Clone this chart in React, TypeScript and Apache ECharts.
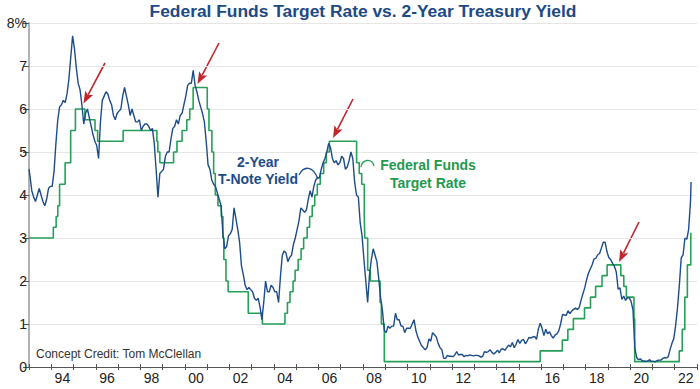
import React, { useEffect, useRef } from "react";
import * as echarts from "echarts";

// ---- Data ----
const yieldStartYear = 1993;
// 2-Year Treasury yield, monthly (Jan..Dec)
const yield2y: number[] = [
  // 1993
  4.45, 4.1, 3.95, 3.85, 4.0, 4.15, 4.0, 3.85, 3.75, 3.9, 4.15, 4.2,
  // 1994
  4.2, 4.55, 5.2, 5.75, 6.05, 6.1, 6.2, 6.15, 6.35, 6.7, 7.2, 7.7,
  // 1995
  7.4, 6.95, 6.6, 6.45, 6.1, 5.65, 5.9, 6.0, 5.8, 5.6, 5.4, 5.25,
  // 1996
  5.15, 4.85, 5.7, 6.2, 6.3, 6.4, 6.35, 6.2, 6.1, 5.85, 5.75, 5.9,
  // 1997
  5.95, 6.0, 6.3, 6.5, 6.3, 6.1, 5.85, 6.0, 5.85, 5.7, 5.7, 5.75,
  // 1998
  5.5, 5.6, 5.65, 5.65, 5.6, 5.5, 5.55, 5.2, 4.6, 3.95, 4.5, 4.55,
  // 1999
  4.6, 4.9, 5.0, 5.0, 5.3, 5.55, 5.6, 5.75, 5.65, 5.85, 5.9, 6.1,
  // 2000
  6.3, 6.55, 6.6, 6.6, 6.9, 6.55, 6.4, 6.2, 6.05, 5.9, 5.7, 5.25,
  // 2001
  4.7, 4.6, 4.35, 4.25, 4.2, 4.05, 3.9, 3.75, 3.1, 2.75, 2.8, 3.05,
  // 2002
  3.1, 3.2, 3.7, 3.45, 3.2, 2.9, 2.35, 2.15, 1.9, 1.8, 1.85, 1.8,
  // 2003
  1.75, 1.6, 1.55, 1.6, 1.4, 1.1, 1.5, 2.0, 1.75, 1.75, 1.9, 1.85,
  // 2004
  1.75, 1.75, 1.5, 2.1, 2.6, 2.7, 2.65, 2.45, 2.55, 2.6, 2.85, 3.0,
  // 2005
  3.2, 3.4, 3.7, 3.65, 3.6, 3.65, 3.9, 4.1, 3.95, 4.2, 4.35, 4.4,
  // 2006
  4.4, 4.6, 4.75, 4.85, 5.0, 5.2, 5.1, 4.85, 4.75, 4.8, 4.7, 4.75,
  // 2007
  4.9, 4.85, 4.6, 4.65, 4.8, 5.0, 4.85, 4.3, 4.0, 3.95, 3.35, 3.05,
  // 2008
  2.5, 2.0, 1.5, 2.15, 2.5, 2.75, 2.6, 2.45, 2.05, 1.6, 1.3, 0.85,
  // 2009
  0.8, 0.95, 0.9, 0.95, 0.95, 1.25, 1.1, 1.1, 0.95, 0.95, 0.8, 0.9,
  // 2010
  0.9, 0.9, 1.0, 1.1, 0.85, 0.7, 0.6, 0.5, 0.45, 0.4, 0.45, 0.65,
  // 2011
  0.6, 0.8, 0.75, 0.7, 0.55, 0.45, 0.4, 0.2, 0.2, 0.27, 0.25, 0.25,
  // 2012
  0.24, 0.28, 0.36, 0.28, 0.29, 0.29, 0.24, 0.27, 0.26, 0.28, 0.27, 0.26,
  // 2013
  0.27, 0.27, 0.26, 0.23, 0.25, 0.36, 0.34, 0.36, 0.4, 0.34, 0.3, 0.34,
  // 2014
  0.39, 0.33, 0.42, 0.42, 0.39, 0.45, 0.51, 0.47, 0.57, 0.45, 0.53, 0.64,
  // 2015
  0.55, 0.62, 0.64, 0.54, 0.61, 0.69, 0.67, 0.7, 0.71, 0.64, 0.88, 1.02,
  // 2016
  0.9, 0.73, 0.88, 0.77, 0.82, 0.73, 0.67, 0.74, 0.77, 0.84, 1.0, 1.22,
  // 2017
  1.21, 1.2, 1.31, 1.24, 1.3, 1.34, 1.37, 1.34, 1.38, 1.55, 1.7, 1.84,
  // 2018
  2.03, 2.18, 2.28, 2.38, 2.51, 2.53, 2.61, 2.64, 2.77, 2.9, 2.9, 2.68,
  // 2019
  2.54, 2.5, 2.41, 2.34, 2.21, 1.81, 1.84, 1.57, 1.65, 1.55, 1.61, 1.61,
  // 2020
  1.52, 1.33, 0.45, 0.22, 0.17, 0.19, 0.14, 0.14, 0.13, 0.14, 0.17, 0.13,
  // 2021
  0.13, 0.12, 0.15, 0.16, 0.16, 0.2, 0.22, 0.21, 0.24, 0.41, 0.55, 0.66,
  // 2022 (Jan..Sep)
  0.97, 1.38, 1.91, 2.54, 2.61, 3.0, 2.97, 3.2, 3.85,
];
const yieldFirstValue = 4.6;
const yieldLastDate = "2022-09-26";
const yieldLastValue = 4.3;

// Federal funds target rate (midpoint of range after 2008): change dates and new level
const fedDates: string[] = [
  "1993-01-01", "1994-02-04", "1994-03-22", "1994-04-18", "1994-05-17", "1994-08-16",
  "1994-11-15", "1995-02-01", "1995-07-06", "1995-12-19", "1996-01-31", "1997-03-25",
  "1998-09-29", "1998-10-15", "1998-11-17", "1999-06-30", "1999-08-24", "1999-11-16",
  "2000-02-02", "2000-03-21", "2000-05-16", "2001-01-03", "2001-01-31", "2001-03-20",
  "2001-04-18", "2001-05-15", "2001-06-27", "2001-08-21", "2001-09-17", "2001-10-02",
  "2001-11-06", "2001-12-11", "2002-11-06", "2003-06-25", "2004-06-30", "2004-08-10",
  "2004-09-21", "2004-11-10", "2004-12-14", "2005-02-02", "2005-03-22", "2005-05-03",
  "2005-06-30", "2005-08-09", "2005-09-20", "2005-11-01", "2005-12-13", "2006-01-31",
  "2006-03-28", "2006-05-10", "2006-06-29", "2007-09-18", "2007-10-31", "2007-12-11",
  "2008-01-22", "2008-01-30", "2008-03-18", "2008-04-30", "2008-10-08", "2008-10-29",
  "2008-12-16", "2015-12-16", "2016-12-14", "2017-03-15", "2017-06-14", "2017-12-13",
  "2018-03-21", "2018-06-13", "2018-09-26", "2018-12-19", "2019-07-31", "2019-09-18",
  "2019-10-30", "2020-03-03", "2020-03-15", "2022-03-16", "2022-05-04", "2022-06-15",
  "2022-07-27", "2022-09-21", "2022-09-28",
];
const fedRates: number[] = [
  3.0, 3.25, 3.5, 3.75, 4.25, 4.75,
  5.5, 6.0, 5.75, 5.5, 5.25, 5.5,
  5.25, 5.0, 4.75, 5.0, 5.25, 5.5,
  5.75, 6.0, 6.5, 6.0, 5.5, 5.0,
  4.5, 4.0, 3.75, 3.5, 3.0, 2.5,
  2.0, 1.75, 1.25, 1.0, 1.25, 1.5,
  1.75, 2.0, 2.25, 2.5, 2.75, 3.0,
  3.25, 3.5, 3.75, 4.0, 4.25, 4.5,
  4.75, 5.0, 5.25, 4.75, 4.5, 4.25,
  3.5, 3.0, 2.25, 2.0, 1.5, 1.0,
  0.125, 0.375, 0.625, 0.875, 1.125, 1.375,
  1.625, 1.875, 2.125, 2.375, 2.125, 1.875,
  1.625, 1.125, 0.125, 0.375, 0.875, 1.625,
  2.375, 3.125, 3.125,
];

const yAxisTicks: number[] = [0, 1, 2, 3, 4, 5, 6, 7, 8];

// ---- helpers ----
const toYear = (s: string): number => {
  const [y, m, d] = s.split("-").map(Number);
  const start = Date.UTC(y, 0, 1);
  const end = Date.UTC(y + 1, 0, 1);
  return y + (Date.UTC(y, m - 1, d) - start) / (end - start);
};

const BLUE = "#1d4c8a";
const GREEN = "#26a058";
const RED = "#c1272d";

function arrow(x1: number, y1: number, x2: number, y2: number): any[] {
  const dx = x2 - x1;
  const dy = y2 - y1;
  const len = Math.sqrt(dx * dx + dy * dy);
  const ux = dx / len;
  const uy = dy / len;
  const hl = 12;
  const hw = 4.5;
  const bx = x2 - ux * hl;
  const by = y2 - uy * hl;
  return [
    {
      type: "line",
      shape: { x1, y1, x2: bx + ux * 2, y2: by + uy * 2 },
      style: { stroke: RED, lineWidth: 1.6 },
      silent: true,
    },
    {
      type: "polygon",
      shape: {
        points: [
          [x2, y2],
          [bx - uy * hw, by + ux * hw],
          [bx + ux * 2.5, by + uy * 2.5],
          [bx + uy * hw, by - ux * hw],
        ],
      },
      style: { fill: RED },
      silent: true,
    },
  ];
}

export default function App() {
  const ref = useRef<HTMLDivElement>(null);

  useEffect(() => {
    if (!ref.current) return;
    const chart = echarts.init(ref.current, undefined, { renderer: "svg" });

    const yieldData: [number, number][] = yield2y.map((v, i) => {
      const yr = yieldStartYear + Math.floor(i / 12);
      const m = i % 12;
      return [yr + (m + 0.5) / 12, v];
    });
    yieldData.unshift([yieldStartYear, yieldFirstValue]);
    yieldData.push([toYear(yieldLastDate), yieldLastValue]);

    const fedData: [number, number][] = fedDates.map((d, i) => [toYear(d), fedRates[i]]);

    const font = "'Liberation Sans', Arial, Helvetica, sans-serif";

    const baseX = {
      type: "value",
      min: 1993,
      max: 2023,
      position: "bottom",
      gridIndex: 0,
    };

    chart.setOption({
      animation: false,
      backgroundColor: "#ffffff",
      grid: { left: 29, right: 1, top: 23, bottom: 22, containLabel: false },
      xAxis: [
        {
          ...baseX,
          interval: 1,
          axisLine: { show: true, lineStyle: { color: "#555", width: 1 } },
          axisTick: { show: true, length: 3, inside: false, lineStyle: { color: "#555", width: 1 } },
          axisLabel: { show: false },
          splitLine: { show: false },
        },
        {
          ...baseX,
          interval: 1,
          axisLine: { show: false },
          axisTick: { show: true, length: 3, inside: true, lineStyle: { color: "#555", width: 1 } },
          axisLabel: { show: false },
          splitLine: { show: false },
        },
        {
          ...baseX,
          interval: 0.5,
          axisLine: { show: false },
          axisTick: { show: false },
          splitLine: { show: false },
          axisLabel: {
            show: true,
            margin: 4,
            fontFamily: font,
            fontSize: 14,
            color: "#222",
            formatter: (v: number) => {
              const yr = Math.floor(v);
              if (Math.abs(v - yr - 0.5) > 1e-6) return "";
              if (yr % 2 !== 0) return "";
              return String(yr % 100).padStart(2, "0");
            },
          },
        },
      ],
      yAxis: {
        type: "value",
        min: 0,
        max: 8,
        interval: 1,
        axisLine: { show: true, lineStyle: { color: "#999", width: 1.5 } },
        axisTick: { show: true, length: 6, lineStyle: { color: "#555", width: 1 } },
        splitLine: { show: true, lineStyle: { color: "#e6e6e6", width: 1 } },
        axisLabel: {
          margin: 2,
          fontFamily: font,
          fontSize: 14,
          color: "#222",
          formatter: (v: number) =>
            yAxisTicks.indexOf(v) < 0 ? "" : v === 8 ? "8%" : String(v),
        },
      },
      series: [
        {
          name: "Federal Funds Target Rate",
          type: "line",
          xAxisIndex: 0,
          step: "end",
          data: fedData,
          showSymbol: false,
          symbol: "none",
          lineStyle: { color: GREEN, width: 1.6 },
          z: 2,
        },
        {
          name: "2-Year T-Note Yield",
          type: "line",
          xAxisIndex: 0,
          data: yieldData,
          showSymbol: false,
          symbol: "none",
          lineStyle: { color: BLUE, width: 1.4 },
          z: 3,
        },
      ],
      graphic: [
        {
          type: "text",
          x: 363,
          y: 2,
          style: {
            text: "Federal Funds Target Rate vs. 2-Year Treasury Yield",
            font: `bold 17.4px ${font}`,
            fill: "#1c4a86",
            align: "center",
            verticalAlign: "top",
          },
          silent: true,
        },
        {
          type: "text",
          left: 36,
          top: 348,
          style: {
            text: "Concept Credit: Tom McClellan",
            font: `12px ${font}`,
            fill: "#333",
          },
          silent: true,
        },
        {
          type: "text",
          x: 258,
          y: 153,
          style: {
            text: "2-Year\nT-Note Yield",
            font: `bold 14px ${font}`,
            fill: BLUE,
            align: "center",
            lineHeight: 17,
          },
          silent: true,
        },
        {
          type: "text",
          x: 428,
          y: 156,
          style: {
            text: "Federal Funds\nTarget Rate",
            font: `bold 14px ${font}`,
            fill: "#1f9a4e",
            align: "center",
            lineHeight: 18,
          },
          silent: true,
        },
        {
          type: "bezierCurve",
          shape: { x1: 299, y1: 175, cpx1: 304, cpy1: 165, cpx2: 313, cpy2: 166, x2: 318, y2: 179 },
          style: { stroke: BLUE, lineWidth: 1.3, fill: "none" },
          silent: true,
        },
        {
          type: "bezierCurve",
          shape: { x1: 361, y1: 167, cpx1: 362, cpy1: 159, cpx2: 372, cpy2: 158, x2: 374, y2: 166 },
          style: { stroke: GREEN, lineWidth: 1.3, fill: "none" },
          silent: true,
        },
        ...arrow(105, 63, 83.5, 103.5),
        ...arrow(219, 43, 197.5, 84),
        ...arrow(353, 99, 333, 138),
        ...arrow(639, 222, 619, 262),
      ],
    });

    return () => chart.dispose();
  }, []);

  return (
    <div
      ref={ref}
      style={{ position: "absolute", left: 0, top: 0, width: 700, height: 389 }}
    />
  );
}
